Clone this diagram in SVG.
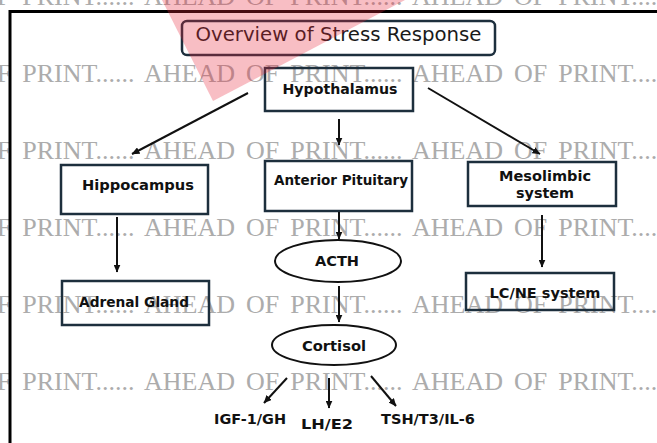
<svg xmlns="http://www.w3.org/2000/svg" width="657" height="443" viewBox="0 0 657 443">
<style>
.wm{font-family:"Liberation Serif","Times New Roman",serif;font-size:26px;fill:#acacac;word-spacing:4.5px}
.box{fill:none;stroke:#1d2f3d;stroke-width:2.5}
.ell{fill:none;stroke:#111;stroke-width:2}
.t{font-family:"DejaVu Sans",sans-serif;font-weight:bold;font-size:14px;fill:#111;text-anchor:middle}
.title{font-family:"DejaVu Sans",sans-serif;font-size:19.5px;fill:#1a1a1a;text-anchor:middle}
.con line{stroke:#111;stroke-width:2;marker-end:url(#ah)}
</style>
<defs>
<marker id="ah" viewBox="0 0 8 7" refX="7.5" refY="3.5" markerWidth="8" markerHeight="7" markerUnits="userSpaceOnUse" orient="auto">
<path d="M0,0 L8,3.5 L0,7 z" fill="#111"/>
</marker>
</defs>
<rect width="657" height="443" fill="#fff"/>
<g id="watermark">
<text class="wm" x="-124" y="5">AHEAD OF PRINT...... AHEAD OF PRINT...... AHEAD OF PRINT...... AHEAD</text>
<text class="wm" x="-124" y="82">AHEAD OF PRINT...... AHEAD OF PRINT...... AHEAD OF PRINT...... AHEAD</text>
<text class="wm" x="-124" y="159">AHEAD OF PRINT...... AHEAD OF PRINT...... AHEAD OF PRINT...... AHEAD</text>
<text class="wm" x="-124" y="236">AHEAD OF PRINT...... AHEAD OF PRINT...... AHEAD OF PRINT...... AHEAD</text>
<text class="wm" x="-124" y="313">AHEAD OF PRINT...... AHEAD OF PRINT...... AHEAD OF PRINT...... AHEAD</text>
<text class="wm" x="-124" y="390">AHEAD OF PRINT...... AHEAD OF PRINT...... AHEAD OF PRINT...... AHEAD</text>
</g>
<g id="frame" fill="none" stroke="#000" stroke-width="3">
<path d="M10,443 V11.5 H657"/>
</g>
<g id="title">
<rect class="box" x="182" y="21" width="313" height="34" rx="5"/>
<text class="title" x="338.5" y="41" textLength="286" lengthAdjust="spacingAndGlyphs">Overview of Stress Response</text>
</g>
<g id="hypothalamus">
<rect class="box" x="265" y="68" width="148" height="43"/>
<text class="t" x="340" y="94" textLength="115" lengthAdjust="spacingAndGlyphs">Hypothalamus</text>
</g>
<g id="hippocampus">
<rect class="box" x="61" y="165" width="147" height="49"/>
<text class="t" x="138" y="190" textLength="112" lengthAdjust="spacingAndGlyphs">Hippocampus</text>
</g>
<g id="anterior-pituitary">
<rect class="box" x="265" y="161" width="147" height="50"/>
<text class="t" x="341" y="185" textLength="134" lengthAdjust="spacingAndGlyphs">Anterior Pituitary</text>
</g>
<g id="mesolimbic">
<rect class="box" x="468" y="162" width="148" height="44"/>
<text class="t" x="545" y="181" textLength="92" lengthAdjust="spacingAndGlyphs">Mesolimbic</text>
<text class="t" x="545" y="198" textLength="58" lengthAdjust="spacingAndGlyphs">system</text>
</g>
<g id="adrenal-gland">
<rect class="box" x="62" y="281" width="147" height="44"/>
<text class="t" x="134" y="307" textLength="110" lengthAdjust="spacingAndGlyphs">Adrenal Gland</text>
</g>
<g id="lcne">
<rect class="box" x="466" y="273" width="148" height="37"/>
<text class="t" x="545" y="298" textLength="111" lengthAdjust="spacingAndGlyphs">LC/NE system</text>
</g>
<g id="acth">
<ellipse class="ell" cx="338" cy="261" rx="63" ry="21"/>
<text class="t" x="337" y="266" textLength="44" lengthAdjust="spacingAndGlyphs">ACTH</text>
</g>
<g id="cortisol">
<ellipse class="ell" cx="334" cy="345" rx="62" ry="20"/>
<text class="t" x="334" y="351" textLength="64" lengthAdjust="spacingAndGlyphs">Cortisol</text>
</g>
<g id="igf">
<text class="t" x="250" y="424" textLength="72" lengthAdjust="spacingAndGlyphs">IGF-1/GH</text>
</g>
<g id="lhe2">
<text class="t" x="327" y="429" textLength="52" lengthAdjust="spacingAndGlyphs">LH/E2</text>
</g>
<g id="tsh">
<text class="t" x="428" y="424" textLength="94" lengthAdjust="spacingAndGlyphs">TSH/T3/IL-6</text>
</g>
<g id="connectors" class="con">
<line x1="248" y1="93" x2="132" y2="154"/>
<line x1="339" y1="119" x2="339" y2="145"/>
<line x1="428" y1="88" x2="540" y2="154"/>
<line x1="117" y1="217" x2="117" y2="272"/>
<line x1="339" y1="212" x2="339" y2="239"/>
<line x1="542" y1="215" x2="542" y2="267"/>
<line x1="339" y1="286" x2="339" y2="322"/>
<line x1="287" y1="378" x2="264" y2="403"/>
<line x1="329" y1="378" x2="329" y2="408"/>
<line x1="371" y1="376" x2="396" y2="406"/>
</g>
<polygon id="pink" points="162,0 405,0 213,101" fill="#e8283a" fill-opacity="0.3"/>
</svg>
